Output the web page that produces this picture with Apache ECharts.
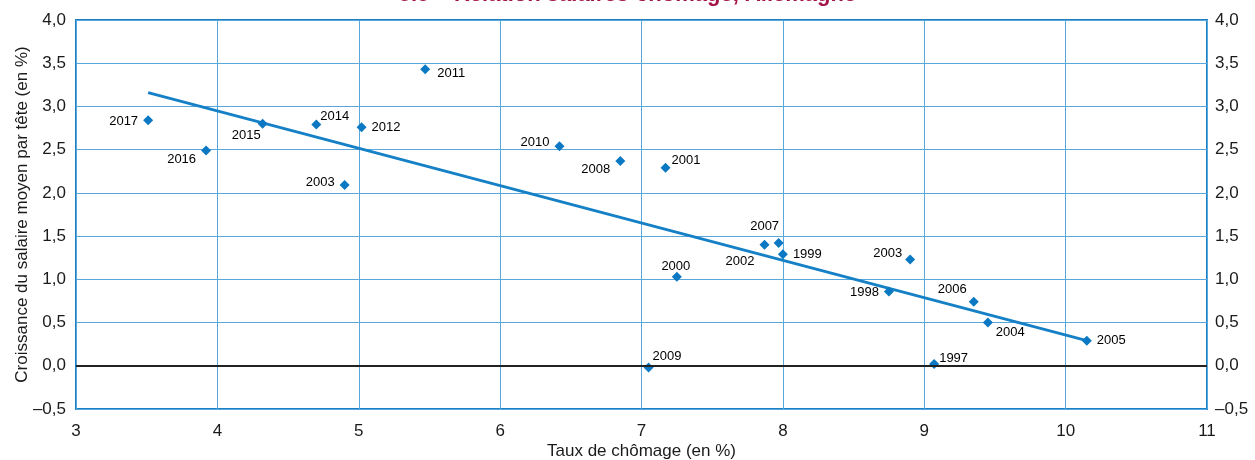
<!DOCTYPE html>
<html>
<head>
<meta charset="utf-8">
<script src="https://cdn.jsdelivr.net/npm/echarts@6/dist/echarts.min.js"></script>
<style>
  html, body { margin: 0; padding: 0; background: #fff; }
  #chart { width: 1255px; height: 460px; }
</style>
</head>
<body>
<div id="chart"></div>
<script>
// données : année, taux de chômage (%), croissance du salaire moyen par tête (%)
var years = ['2017', '2016', '2015', '2014', '2012', '2003', '2011', '2010', '2008', '2001', '2000',
             '2009', '2002', '2007', '1999', '2003', '1998', '2006', '2004', '2005', '1997'];
var chomage = [3.51, 3.92, 4.32, 4.70, 5.02, 4.90, 5.47, 6.42, 6.85, 7.17, 7.25,
               7.05, 7.87, 7.97, 8.00, 8.90, 8.75, 9.35, 9.45, 10.15, 9.07];
var salaire = [2.84, 2.49, 2.80, 2.79, 2.76, 2.09, 3.43, 2.54, 2.37, 2.29, 1.03,
               -0.02, 1.40, 1.42, 1.29, 1.23, 0.86, 0.74, 0.50, 0.29, 0.02];
// droite de tendance (deux extrémités)
var trendX = [3.51, 10.15];
var trendY = [3.16, 0.29];
var yTicks = { min: -0.5, max: 4, interval: 0.5 };
var xTicks = { min: 3, max: 11, interval: 1 };

// placement des étiquettes (style)
var labelPos = ['left', 'left', 'left', 'right', 'right', 'left', 'right', 'left', 'left', 'right', 'top',
                'right', 'left', 'top', 'right', 'left', 'left', 'left', 'right', 'right', 'right'];
var labelShift = [[0, 1], [0, 9], [8, 12], [-6, -8], [0, 0], [0, -3], [2, 4], [0, -4], [0, 9], [-4, -7], [-1, 6],
                  [-6, -11], [0, 17], [-14, 0], [0, 0], [2, -6], [0, 1], [3, -12], [-2, 10], [0, 0], [-5, -6]];

var blue = '#0a78c2';
var gridBlue = '#5aa7dc';
var font = '"Liberation Sans", Arial, sans-serif';

function fmt(v) {
  var s = v.toFixed(1).replace('.', ',');
  return s.replace('-', '\u2013');
}

var points = [];
for (var i = 0; i < years.length; i++) {
  points.push({
    value: [chomage[i], salaire[i]],
    name: years[i],
    label: { position: labelPos[i], offset: labelShift[i] }
  });
}
var trend = [];
for (var j = 0; j < trendX.length; j++) trend.push([trendX[j], trendY[j]]);

var myChart = echarts.init(document.getElementById('chart'));
var yBase = {
  type: 'value',
  min: yTicks.min,
  max: yTicks.max,
  interval: yTicks.interval,
  axisLine: { show: false },
  axisTick: { show: false },
  axisLabel: { formatter: fmt, color: '#1a1a1a', fontSize: 17, fontFamily: font, margin: 10 },
  splitLine: { show: true, lineStyle: { color: gridBlue, width: 1 } }
};
var option = {
  animation: false,
  backgroundColor: '#fff',
  title: {
    text: '5.5 \u2013 Relation salaires-ch\u00f4mage, Allemagne',
    left: 'center',
    top: -21,
    textStyle: { color: '#a3154a', fontSize: 22, fontWeight: 'bold', fontFamily: font }
  },
  grid: {
    left: 76, right: 48, top: 20, bottom: 51,
    outerBoundsMode: 'none',
    containLabel: false,
    show: true,
    borderColor: '#1a7fc4',
    borderWidth: 2,
    backgroundColor: '#fff'
  },
  xAxis: {
    type: 'value',
    min: xTicks.min,
    max: xTicks.max,
    interval: xTicks.interval,
    name: 'Taux de ch\u00f4mage (en %)',
    nameLocation: 'middle',
    nameGap: 34,
    nameMoveOverlap: false,
    nameTextStyle: { color: '#1a1a1a', fontSize: 17, fontFamily: font },
    axisLine: { show: false },
    axisTick: { show: false },
    axisLabel: { color: '#1a1a1a', fontSize: 17, fontFamily: font, margin: 14 },
    splitLine: { show: true, lineStyle: { color: gridBlue, width: 1 } }
  },
  yAxis: [
    Object.assign({}, yBase, {
      name: 'Croissance du salaire moyen par t\u00eate (en %)',
      nameLocation: 'middle',
      nameGap: 45,
      nameMoveOverlap: false,
      nameTextStyle: { color: '#1a1a1a', fontSize: 17, fontFamily: font }
    }),
    Object.assign({}, yBase, {
      position: 'right',
      splitLine: { show: false },
      axisLabel: { formatter: fmt, color: '#1a1a1a', fontSize: 17, fontFamily: font, margin: 8 }
    })
  ],
  series: [
    {
      type: 'line',
      data: trend,
      symbol: 'none',
      lineStyle: { color: '#1580c6', width: 2.8 },
      z: 3,
      markLine: {
        silent: true,
        symbol: 'none',
        label: { show: false },
        lineStyle: { color: '#222', width: 2, type: 'solid' },
        data: [{ yAxis: 0 }]
      }
    },
    {
      type: 'scatter',
      data: points,
      symbol: 'diamond',
      symbolSize: 10,
      itemStyle: { color: blue, opacity: 1 },
      z: 4,
      label: {
        show: true,
        formatter: '{b}',
        distance: 5,
        color: '#000',
        fontSize: 13,
        fontFamily: font
      }
    }
  ]
};
myChart.setOption(option);
</script>
</body>
</html>
